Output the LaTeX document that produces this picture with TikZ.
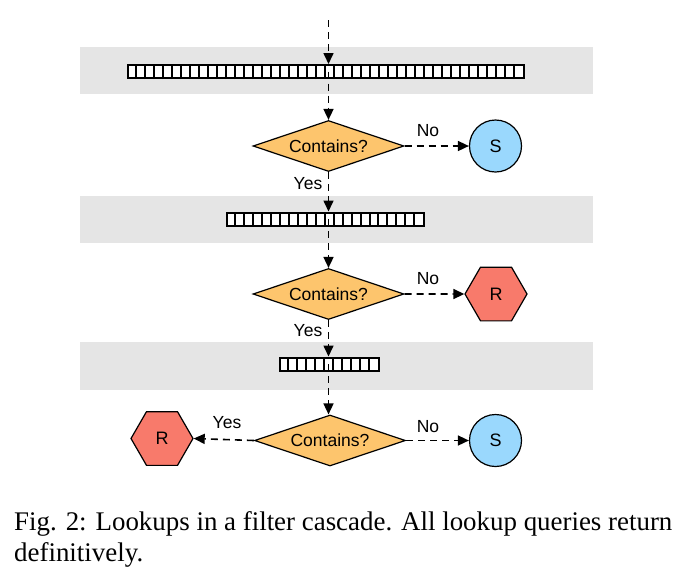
\documentclass[tikz,border=0pt]{standalone}
\usepackage{fontspec}
\setmainfont{Liberation Serif}
\setsansfont{Liberation Sans}
\usetikzlibrary{shapes.geometric,arrows.meta,calc}
\definecolor{bandgray}{HTML}{E5E5E5}
\definecolor{dorange}{HTML}{FDC56D}
\definecolor{sblue}{HTML}{9AD8FD}
\definecolor{rred}{HTML}{F87A6B}
\tikzset{
  band/.style={fill=bandgray,draw=none},
  dec/.style={diamond,aspect=2.96,draw=black,line width=1.2pt,fill=dorange,minimum width=151pt,minimum height=51pt,inner sep=0pt,font=\sffamily\fontsize{17.5}{20}\selectfont},
  sres/.style={circle,draw=black,line width=1.2pt,fill=sblue,minimum size=52pt,inner sep=0pt,font=\sffamily\fontsize{18}{20}\selectfont},
  rres/.style={regular polygon,regular polygon sides=6,draw=black,line width=1.2pt,fill=rred,minimum size=62pt,inner sep=0pt,font=\sffamily\fontsize{18}{20}\selectfont},
  flow/.style={dash pattern=on 7pt off 5pt,line width=1.6pt,-{Triangle[length=11pt,width=10pt]}},
  lbl/.style={font=\sffamily\fontsize{17.5}{20}\selectfont,inner sep=0pt},
  captext/.style={font=\fontsize{26.9}{30}\selectfont,inner sep=0pt,anchor=base west,align=left},
  barbox/.style={draw=black,line width=2pt,fill=white,minimum height=13pt,inner sep=0pt,anchor=west}
}
\newcommand{\cellbar}[5]{% name, x-left, y-center, cells, cellwidth
  \pgfmathsetmacro{\barw}{#4*#5}
  \pgfmathtruncatemacro{\lastk}{#4-1}
  \node[barbox,minimum width=\barw pt] (#1) at (#2,#3) {};
  \foreach \k in {1,...,\lastk}{
    \draw[line width=2pt] ($(#1.south west)+(\k*#5,0)$) -- ($(#1.north west)+(\k*#5,0)$);
  }
}
\begin{document}
\begin{tikzpicture}[x=1pt,y=-1pt]
\useasboundingbox (0,0) rectangle (693,582);
% bands
\path[band] (80,47) rectangle (593,94);
\path[band] (80,196) rectangle (593,243);
\path[band] (80,342) rectangle (593,390);
% bars
\cellbar{bar1}{127.3}{71.5}{44}{8.99}
\cellbar{bar2}{226}{219}{22}{8.97}
\cellbar{bar3}{279.3}{364}{11}{9}
% decisions
\node[dec] (d1) at (328.5,146) {Contains?};
\node[dec] (d2) at (328.5,294) {Contains?};
\node[dec] (d3) at (330,440.5) {Contains?};
% results
\node[sres] (s1) at (495.5,146) {S};
\node[rres] (r2) at (496,294) {R};
\node[rres] (r3) at (162,438.5) {R};
\node[sres] (s3) at (495.5,440.5) {S};
% entry
\coordinate (start) at (328.5,20);
\draw[flow] (start) -- (bar1.north -| start);
\draw[flow] (bar1.center -| start) -- (d1.north);
\draw[flow] (d1.south) -- (bar2.north -| d1.south);
\draw[flow] (bar2.center -| d2.north) -- (d2.north);
\draw[flow] (d2.south) -- (bar3.north -| d2.south);
\draw[flow] (bar3.center -| d2.north) -- (d3.north -| d2.north);
\draw[flow] (d1.east) -- (s1.west);
\draw[flow] (d2.east) -- (r2.west);
\draw[flow] (d3.east) -- (s3.west);
\draw[flow] (d3.west) -- (r3.east);
% labels
\node[lbl] (no1) at (428,131) {No};
\node[lbl] (no2) at (428,279) {No};
\node[lbl] (no3) at (428,427) {No};
\node[lbl] (yes1) at (308,184) {Yes};
\node[lbl] (yes2) at (308,331) {Yes};
\node[lbl] (yes3) at (227,423) {Yes};
% caption
\node[captext] (caption1) at (14,530.7) {Fig. 2: Lookups in a filter cascade. All lookup queries return};
\node[captext] (caption2) at (14,561) {definitively.};
\end{tikzpicture}
\end{document}
